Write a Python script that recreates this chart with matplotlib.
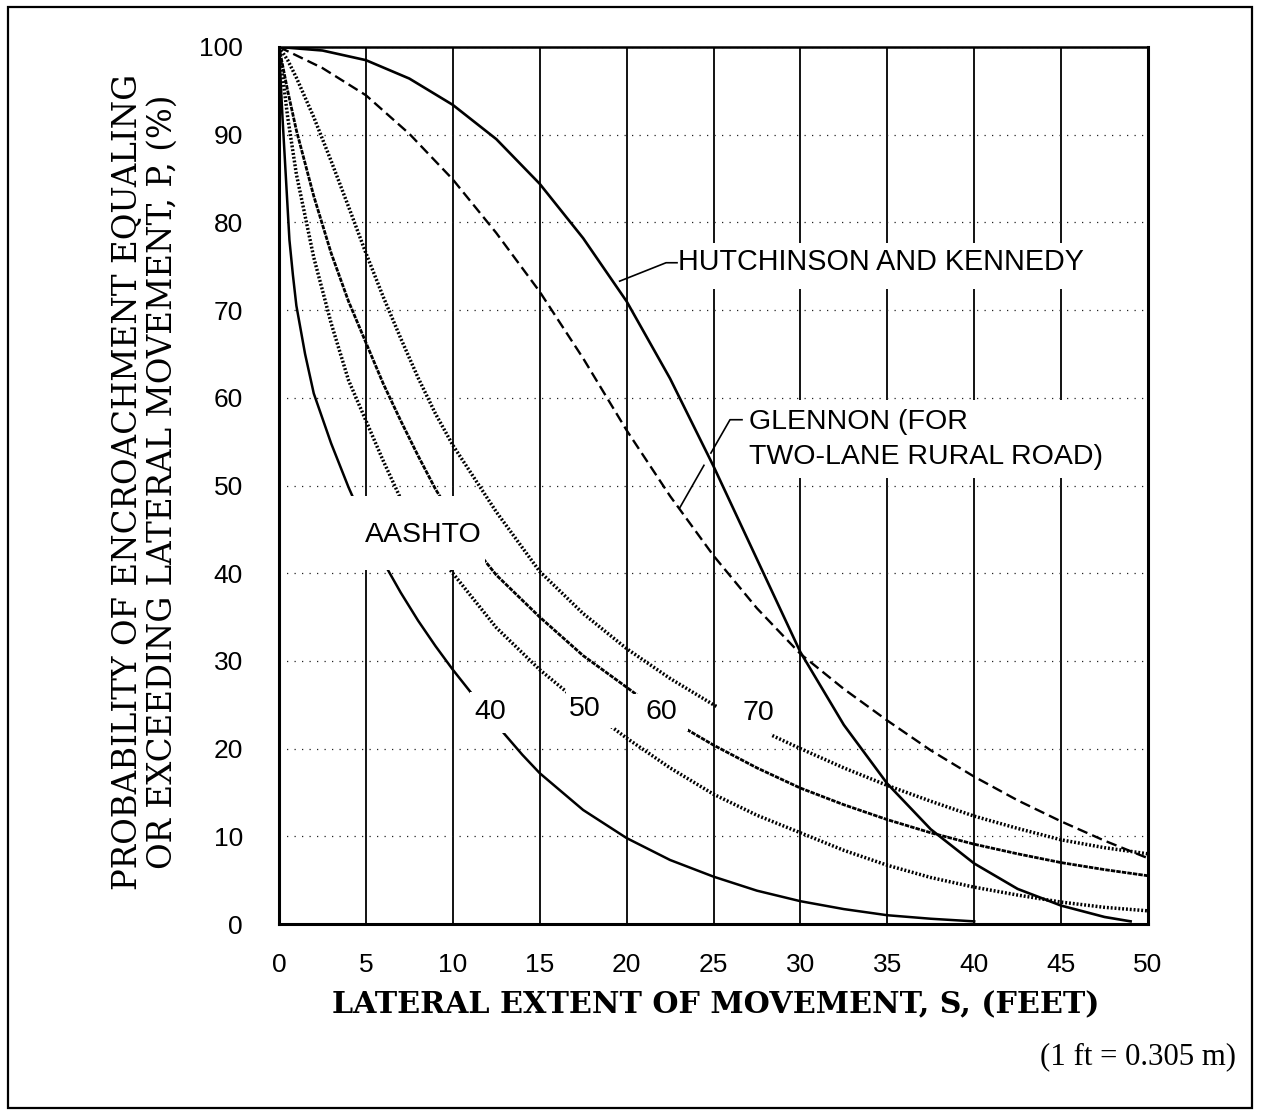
import matplotlib
matplotlib.use("Agg")
import matplotlib.pyplot as plt
from matplotlib.patches import Rectangle

# ---------------- data ----------------
x_ticks = [0, 5, 10, 15, 20, 25, 30, 35, 40, 45, 50]
y_ticks = [0, 10, 20, 30, 40, 50, 60, 70, 80, 90, 100]

hk_x = [0, 2.5, 5, 7.5, 10, 12.5, 15, 17.5, 20, 22.5, 25, 27.5, 30, 32.5, 35,
        37.5, 40, 42.5, 45, 47.5, 49]
hk_y = [100, 99.6, 98.5, 96.4, 93.4, 89.5, 84.4, 78.2, 71.0, 62.2, 52.2, 41.6,
        31.0, 22.7, 16.0, 10.8, 6.9, 4.0, 2.1, 0.8, 0.3]

gl_x = [0, 2.5, 5, 7.5, 10, 12.5, 15, 17.5, 20, 22.5, 25, 27.5, 30, 32.5, 35,
        37.5, 40, 42.5, 45, 47.5, 50]
gl_y = [100, 97.6, 94.5, 90.1, 84.9, 78.8, 72.1, 64.5, 56.3, 48.8, 42.0, 36.0,
        30.8, 26.8, 23.2, 19.8, 16.8, 14.1, 11.7, 9.5, 7.5]

a40_x = [0, 0.2, 0.4, 0.6, 0.8, 1.0, 1.5, 2, 3, 4, 5, 6, 7, 8, 9, 10, 11, 12,
         13, 14, 15, 17.5, 20, 22.5, 25, 27.5, 30, 32.5, 35, 37.5, 40]
a40_y = [100, 92, 85, 78, 74, 70.5, 65, 60.5, 54.8, 49.8, 45.3, 41.3, 37.8,
         34.6, 31.7, 29.0, 26.5, 24.0, 21.6, 19.3, 17.2, 13.0, 9.8, 7.3, 5.4,
         3.8, 2.6, 1.7, 1.0, 0.6, 0.3]

a50_x = [0, 0.5, 1, 2, 3, 4, 5, 6, 7, 8, 9, 10, 12.5, 15, 17.5, 20, 22.5, 25,
         27.5, 30, 32.5, 35, 37.5, 40, 42.5, 45, 47.5, 50]
a50_y = [100, 92, 85.5, 76, 68.5, 62, 57.4, 52.8, 48.5, 45.2, 42.5, 40.0, 33.8,
         29.0, 24.9, 21.2, 17.8, 14.8, 12.4, 10.4, 8.4, 6.7, 5.3, 4.2, 3.3, 2.5,
         1.9, 1.5]

a60_x = [0, 0.5, 1, 2, 3, 4, 5, 6, 7, 8, 9, 10, 11, 12.5, 15, 17.5, 20, 22.5,
         25, 27.5, 30, 32.5, 35, 37.5, 40, 42.5, 45, 47.5, 50]
a60_y = [100, 95, 90.5, 83, 76.5, 71, 66.3, 61.6, 57.4, 53.4, 49.6, 46.4, 43.5,
         39.8, 35.0, 30.6, 27.0, 23.3, 20.4, 17.8, 15.5, 13.6, 11.9, 10.4, 9.1,
         8.0, 7.0, 6.2, 5.5]

a70_x = [0, 0.5, 1, 2, 3, 4, 5, 6, 7, 8, 9, 10, 12.5, 15, 17.5, 20, 22.5, 25,
         27.5, 30, 32.5, 35, 37.5, 40, 42.5, 45, 47.5, 50]
a70_y = [100, 98.5, 96.5, 92, 87, 81.8, 76.5, 71.5, 66.8, 62.3, 58.2, 54.6,
         47.0, 40.2, 35.4, 31.4, 28.0, 25.0, 22.3, 20.0, 17.8, 15.8, 14.0, 12.3,
         10.9, 9.6, 8.7, 8.0]

# speed labels of the AASHTO family and where they sit
speed_labels = ["40", "50", "60", "70"]
speed_label_x = [12.17, 17.6, 22.0, 27.6]
speed_label_y = [24.2, 24.5, 24.2, 24.1]

x_label = "LATERAL EXTENT OF MOVEMENT, S, (FEET)"
y_label = "PROBABILITY OF ENCROACHMENT EQUALING\nOR EXCEEDING LATERAL MOVEMENT, P, (%)"
note = "(1 ft = 0.305 m)"

# ---------------- figure ----------------
W, H = 1261, 1112
fig = plt.figure(figsize=(W / 100, H / 100), dpi=100)
fig.patch.set_facecolor("white")
ax = fig.add_axes([279 / W, (H - 924) / H, (1148 - 279) / W, (924 - 47) / H])
ax.set_xlim(0, 50)
ax.set_ylim(0, 100)
ax.set_xticks(x_ticks)
ax.set_yticks(y_ticks)
ax.tick_params(length=0, labelsize=19)
ax.tick_params(axis="x", pad=21)
ax.tick_params(axis="y", pad=26)
for lab in ax.get_xticklabels() + ax.get_yticklabels():
    lab.set_family("Liberation Sans")

ax.set_axisbelow(True)
ax.xaxis.grid(True, color="black", lw=1.3)
ax.yaxis.grid(True, color="#222222", lw=0.9, linestyle=(0, (1, 5)))
for s in ax.spines.values():
    s.set_linewidth(2.2)
    s.set_zorder(6)
ax.spines["top"].set_linewidth(1.8)

# ---------------- curves ----------------
ax.plot(hk_x, hk_y, color="black", lw=1.9, zorder=3)
ax.plot(gl_x, gl_y, color="black", lw=1.7, zorder=3, dashes=(4.5, 2.2))
ax.plot(a40_x, a40_y, color="black", lw=1.8, zorder=3)
ax.plot(a50_x, a50_y, color="black", lw=2.5, zorder=3, linestyle=(0, (0.55, 0.55)))
ax.plot(a60_x, a60_y, color="black", lw=2.0, zorder=3, linestyle=(0, (1.6, 0.4)))
ax.plot(a70_x, a70_y, color="black", lw=2.5, zorder=3, linestyle=(0, (0.55, 0.55)))

# white masks behind the labels (the printed chart breaks lines there)
masks = [
    (3.4, 40.4, 11.85 - 3.4, 48.8 - 40.4),   # AASHTO
    (11.0, 21.8, 2.3, 4.7),                  # 40
    (16.5, 22.4, 2.8, 4.5),                  # 50
    (20.35, 22.0, 3.2, 4.2),                 # 60
    (25.2, 21.3, 3.1, 4.7),                  # 70
    (22.5, 72.4, 24.5, 5.2),                 # Hutchinson
    (26.5, 50.9, 21.6, 8.8),                 # Glennon
]
for (mx, my, mw, mh) in masks:
    ax.add_patch(Rectangle((mx, my), mw, mh, facecolor="white",
                           edgecolor="none", zorder=4))

sans = "Liberation Sans"
fs_in = 20.5
ax.text(8.3, 44.3, "AASHTO", ha="center", va="center", fontsize=fs_in,
        family=sans, zorder=5)
for lab, lx, ly in zip(speed_labels, speed_label_x, speed_label_y):
    ax.text(lx, ly, lab, ha="center", va="center", fontsize=fs_in,
            family=sans, zorder=5)

t_hk = ax.text(22.96, 75.5, "HUTCHINSON AND KENNEDY", ha="left", va="center",
               fontsize=fs_in, family=sans, zorder=5)
t_gl = ax.text(27.05, 55.2, "GLENNON (FOR\nTWO-LANE RURAL ROAD)", ha="left",
               va="center", fontsize=fs_in, family=sans, zorder=5,
               linespacing=1.45)

# leader lines
ax.plot([22.9, 22.27, 19.6], [75.4, 75.4, 73.3], color="black", lw=1.2, zorder=6)
ax.plot([26.64, 25.95, 24.85], [57.5, 57.5, 53.7], color="black", lw=1.2, zorder=6)
ax.plot([24.45, 23.07], [52.3, 47.5], color="black", lw=1.2, zorder=6)

# ---------------- axis titles & note ----------------
xl = fig.text(716 / W, 1 - 1005 / H, x_label, ha="center", va="center",
              family="DejaVu Serif", weight="bold", fontsize=20)
yl = fig.text(145 / W, 1 - 482 / H, y_label, ha="center", va="center",
              rotation=90, family="DejaVu Serif", fontsize=21,
              multialignment="center", linespacing=1.15)
nt = fig.text(1236 / W, 1 - 1057 / H, note, ha="right", va="center",
              family="Liberation Serif", fontsize=20)

# scale text to the widths measured on the reference
fig.canvas.draw()
r = fig.canvas.get_renderer()
def fit(t, target, vertical=False):
    bb = t.get_window_extent(r)
    cur = bb.height if vertical else bb.width
    t.set_fontsize(t.get_fontsize() * target / cur)

fit(xl, 767)
fit(yl, 815, vertical=True)
fit(nt, 196)
fit(t_hk, 407)

# outer frame
fig.patches.append(Rectangle((8 / W, 4 / H), (1252 - 8) / W, (1105 - 4) / H,
                             transform=fig.transFigure, fill=False,
                             edgecolor="black", lw=1.6))

fig.savefig("out.png", dpi=100)
